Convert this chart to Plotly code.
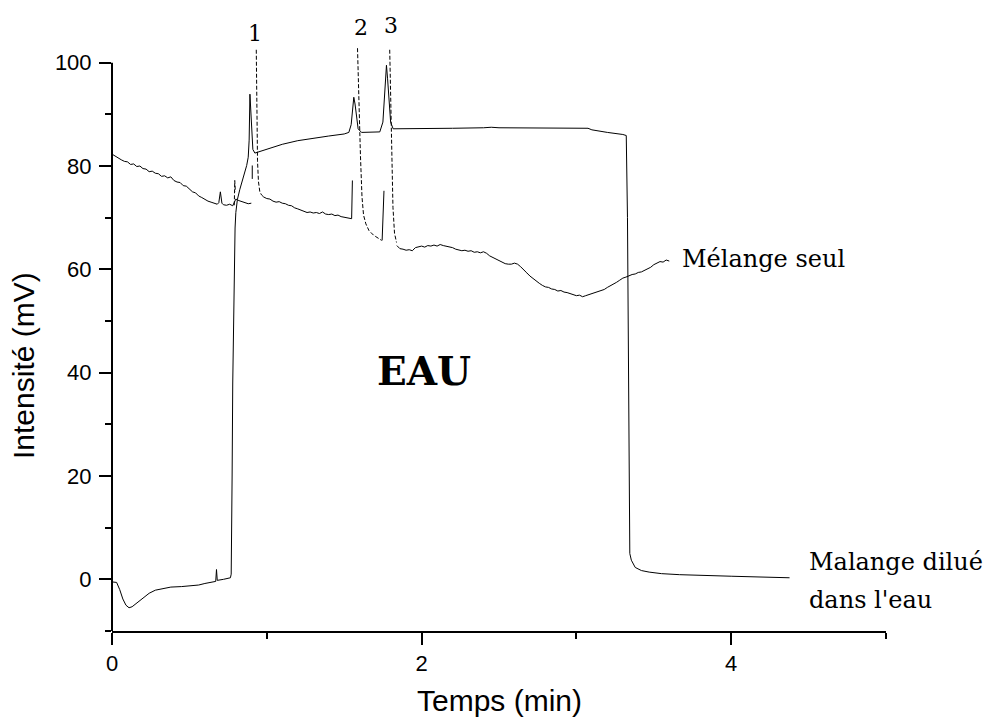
import plotly.graph_objects as go

# ---------------- data ----------------
# "Mélange seul" : baseline pieces (solid)
seul_x1 = [0, 0.02, 0.04, 0.06, 0.08, 0.10, 0.12, 0.14, 0.16, 0.18, 0.20, 0.22, 0.24, 0.26, 0.28,
           0.30, 0.32, 0.34, 0.36, 0.38, 0.40, 0.42, 0.44, 0.46, 0.48, 0.50, 0.52, 0.54, 0.56, 0.58,
           0.60, 0.62, 0.64, 0.66, 0.68, 0.69, 0.70, 0.71, 0.72, 0.74, 0.76, 0.78, 0.80, 0.82, 0.84,
           0.86, 0.88, 0.90]
seul_y1 = [82.3, 81.9, 81.6, 81.2, 80.9, 80.8, 80.3, 80.4, 79.9, 80.0, 79.5, 79.4, 78.9, 79.0, 78.6,
           78.5, 78.0, 78.1, 77.7, 77.9, 77.2, 76.9, 76.8, 76.2, 76.1, 75.6, 75.0, 74.8, 74.2, 73.9,
           73.5, 73.2, 73.0, 72.8, 72.6, 72.9, 75.0, 72.8, 72.5, 72.4, 72.6, 72.3, 73.6, 73.3, 73.1,
           72.9, 72.7, 72.8]
seul_x2 = [0.966, 0.98, 1.00, 1.02, 1.04, 1.06, 1.08, 1.10, 1.12, 1.14, 1.16, 1.18, 1.20, 1.22, 1.24,
           1.26, 1.28, 1.30, 1.32, 1.34, 1.36, 1.38, 1.40, 1.42, 1.44, 1.46, 1.48, 1.50, 1.52, 1.548]
seul_y2 = [74.4, 74.0, 73.7, 73.6, 73.2, 73.0, 73.1, 72.8, 72.7, 72.4, 72.3, 71.9, 71.7, 71.5, 71.3,
           71.0, 71.1, 70.9, 71.0, 70.8, 71.1, 70.7, 70.6, 70.7, 70.4, 70.5, 70.2, 70.1, 69.9, 69.8]
seul_x3 = [1.84, 1.86, 1.88, 1.90, 1.92, 1.94, 1.96, 1.98, 2.00, 2.02, 2.04, 2.06, 2.08, 2.10, 2.12,
           2.14, 2.16, 2.18, 2.20, 2.22, 2.24, 2.26, 2.28, 2.30, 2.32, 2.34, 2.36, 2.38, 2.40, 2.42,
           2.44, 2.46, 2.48, 2.50, 2.52, 2.54, 2.56, 2.58, 2.60, 2.62, 2.64, 2.66, 2.68, 2.70, 2.72,
           2.74, 2.76, 2.78, 2.80, 2.82, 2.84, 2.86, 2.88, 2.90, 2.92, 2.94, 2.96, 2.98, 3.00, 3.02,
           3.04, 3.06, 3.08, 3.10, 3.12, 3.14, 3.16, 3.18, 3.20, 3.22, 3.24, 3.26, 3.28, 3.30, 3.32,
           3.34, 3.36, 3.38, 3.40, 3.42, 3.44, 3.46, 3.48, 3.50, 3.52, 3.54, 3.56, 3.58, 3.60]
seul_y3 = [64.6, 64.0, 63.9, 63.7, 63.8, 63.6, 64.2, 64.4, 64.5, 64.3, 64.6, 64.5, 64.7, 64.5, 64.8,
           64.6, 64.5, 64.3, 64.2, 63.9, 63.8, 63.6, 63.7, 63.5, 63.6, 63.3, 63.4, 63.2, 63.4, 63.1,
           62.6, 62.3, 61.9, 61.7, 61.4, 61.1, 61.0, 61.0, 61.2, 61.0, 60.5, 59.8, 59.3, 58.7, 58.2,
           57.8, 57.3, 56.9, 56.6, 56.5, 56.2, 56.1, 55.8, 55.9, 55.6, 55.5, 55.3, 55.2, 54.9, 55.0,
           54.7, 54.9, 55.1, 55.3, 55.4, 55.7, 55.9, 56.1, 56.5, 56.8, 57.2, 57.5, 57.9, 58.3, 58.5,
           58.8, 59.0, 59.1, 59.4, 59.5, 59.8, 60.0, 60.4, 60.9, 61.2, 61.5, 61.4, 61.8, 61.6]
# "Mélange seul" : steep peak flanks (drawn broken in the original)
peak_tail_x = [0.790, 0.793, 0.797, None,
               0.932, 0.936, 0.940, 0.946, 0.955, 0.966, None,
               1.586, 1.595, 1.605, 1.615, 1.625, 1.640, 1.660, 1.690, 1.720, 1.742, None,
               1.794, 1.800, 1.806, 1.815, 1.825, 1.838]
peak_tail_y = [72.4, 77.2, 75.0, None,
               102.5, 90.0, 81.0, 77.0, 75.0, 74.4, None,
               102.8, 92.0, 82.0, 74.0, 70.5, 68.8, 67.5, 66.6, 66.0, 65.6, None,
               102.5, 92.0, 83.0, 72.0, 67.0, 65.2]
peak_rise_x = [0.906, 0.906, None, 1.548, 1.553, None, 1.745, 1.757]
peak_rise_y = [77.5, 80.1, None, 69.8, 77.2, None, 65.6, 75.2]

# "Malange dilué dans l'eau"
eau_x = [0, 0.03, 0.05, 0.07, 0.09, 0.11, 0.13, 0.16, 0.20, 0.24, 0.28, 0.32, 0.38, 0.45, 0.52,
         0.56, 0.60, 0.65, 0.67, 0.675, 0.68, 0.72, 0.765, 0.770, 0.773, 0.776, 0.780, 0.785, 0.790,
         0.795, 0.800, 0.810, 0.826, 0.848, 0.870, 0.880, 0.886, 0.891, 0.897, 0.902, 0.910, 0.923,
         1.00, 1.10, 1.20, 1.30, 1.40, 1.50, 1.53, 1.545, 1.555, 1.562, 1.57, 1.58, 1.59, 1.612,
         1.65, 1.73, 1.75, 1.76, 1.767, 1.773, 1.78, 1.79, 1.80, 1.816, 1.90, 2.00, 2.20, 2.40,
         2.45, 2.50, 2.80, 3.075, 3.10, 3.15, 3.20, 3.30, 3.322, 3.33, 3.335, 3.34, 3.345, 3.355,
         3.38, 3.42, 3.47, 3.55, 3.667, 4.00, 4.377]
eau_y = [-0.5, -0.6, -2.0, -3.8, -5.0, -5.5, -5.3, -4.6, -3.6, -2.7, -2.1, -1.8, -1.5, -1.4, -1.3,
         -1.1, -0.8, -0.5, -0.4, 1.9, -0.2, 0.0, 0.3, 1.0, 8.0, 20.0, 38.0, 52.0, 63.0,
         68.0, 71.0, 73.5, 75.5, 77.8, 80.1, 81.7, 85.0, 93.9, 90.0, 85.5, 83.2, 82.5,
         83.3, 84.2, 84.9, 85.4, 85.8, 86.2, 86.5, 88.0, 92.0, 93.3, 92.0, 89.0, 87.2, 86.5,
         86.5, 86.6, 88.5, 93.0, 98.0, 99.5, 97.0, 92.0, 88.5, 87.2, 87.2, 87.2, 87.3, 87.4,
         87.5, 87.4, 87.3, 87.3, 87.0, 86.7, 86.5, 86.1, 85.9, 70.0, 40.0, 15.0, 5.0, 3.7,
         2.3, 1.7, 1.4, 1.1, 0.9, 0.6, 0.3]

x_range = [0, 5]
y_range = [-10, 110]
y_axis_top = 100
x_major = [0, 2, 4]
x_minor = [1, 3, 5]
y_major = [0, 20, 40, 60, 80, 100]
y_minor = [-10, 10, 30, 50, 70, 90]

# ---------------- figure ----------------
line = dict(color="black", width=1)
fig = go.Figure()
fig.add_trace(go.Scatter(x=seul_x1, y=seul_y1, mode="lines", line=line, hoverinfo="skip"))
fig.add_trace(go.Scatter(x=seul_x2, y=seul_y2, mode="lines", line=line, hoverinfo="skip"))
fig.add_trace(go.Scatter(x=seul_x3, y=seul_y3, mode="lines", line=line, hoverinfo="skip"))
fig.add_trace(go.Scatter(x=peak_rise_x, y=peak_rise_y, mode="lines", line=line, hoverinfo="skip"))
fig.add_trace(go.Scatter(x=peak_tail_x, y=peak_tail_y, mode="lines",
                         line=dict(color="black", width=1, dash="4px,2px"), hoverinfo="skip"))
fig.add_trace(go.Scatter(x=eau_x, y=eau_y, mode="lines", line=line, hoverinfo="skip"))

serif = "DejaVu Serif"
sans = "Liberation Sans, Arial, sans-serif"
ann = [
    dict(x=3.667, y=62, text="Mélange seul", xanchor="left", yanchor="middle",
         font=dict(family=serif, size=24, color="black")),
    dict(x=4.49, y=3.4, text="Malange dilué", xanchor="left", yanchor="middle",
         font=dict(family=serif, size=24, color="black")),
    dict(x=4.49, y=-4.0, text="dans l'eau", xanchor="left", yanchor="middle",
         font=dict(family=serif, size=24, color="black")),
    dict(x=2.014, y=40.4, text="<b>EAU</b>", xanchor="center", yanchor="middle",
         font=dict(family=serif, size=39, color="black")),
    dict(x=0.923, y=105.6, text="1", xanchor="center", yanchor="middle",
         font=dict(family=serif, size=22, color="black")),
    dict(x=1.606, y=106.8, text="2", xanchor="center", yanchor="middle",
         font=dict(family=serif, size=22, color="black")),
    dict(x=1.80, y=107.2, text="3", xanchor="center", yanchor="middle",
         font=dict(family=serif, size=22, color="black")),
]
for a in ann:
    a.update(xref="x", yref="y", showarrow=False)

plot_h = 620
ann += [
    dict(xref="paper", yref="paper", x=0.501, y=-69 / plot_h, text="Temps (min)", showarrow=False,
         xanchor="center", yanchor="middle", font=dict(family=sans, size=30, color="black")),
    dict(xref="paper", yref="paper", x=-0.1150, y=(631 - 365) / plot_h, text="Intensité (mV)",
         showarrow=False, textangle=-90, xanchor="center", yanchor="middle",
         font=dict(family=sans, size=30, color="black")),
]

y_top_paper = (y_axis_top - y_range[0]) / (y_range[1] - y_range[0])

fig.update_layout(
    width=989, height=722,
    margin=dict(l=112, r=103, t=722 - 91 - plot_h, b=91),
    paper_bgcolor="white", plot_bgcolor="white",
    showlegend=False,
    annotations=ann,
    shapes=[dict(type="line", xref="paper", yref="paper", x0=0, x1=0, y0=0, y1=y_top_paper,
                 line=dict(color="black", width=2))],
    xaxis=dict(range=x_range, showgrid=False, zeroline=False, showline=True, linecolor="black",
               linewidth=2, ticks="outside", ticklen=12, tickwidth=2, tickcolor="black",
               tickmode="array", tickvals=x_major, ticktext=[str(v) for v in x_major],
               tickfont=dict(family=sans, size=22, color="black"),
               minor=dict(tickmode="array", tickvals=x_minor, ticks="outside", ticklen=6,
                          tickwidth=2, tickcolor="black", showgrid=False)),
    yaxis=dict(range=y_range, showgrid=False, zeroline=False, showline=False,
               ticks="outside", ticklen=12, tickwidth=2, tickcolor="black",
               tickmode="array", tickvals=y_major, ticktext=[str(v) for v in y_major],
               tickfont=dict(family=sans, size=22, color="black"), ticklabelstandoff=3,
               minor=dict(tickmode="array", tickvals=y_minor, ticks="outside", ticklen=6,
                          tickwidth=2, tickcolor="black", showgrid=False)),
)

fig.write_html("out.html", config={"displayModeBar": False},
               post_script="document.body.style.margin='0px';"
                           "document.body.style.overflow='hidden';")
